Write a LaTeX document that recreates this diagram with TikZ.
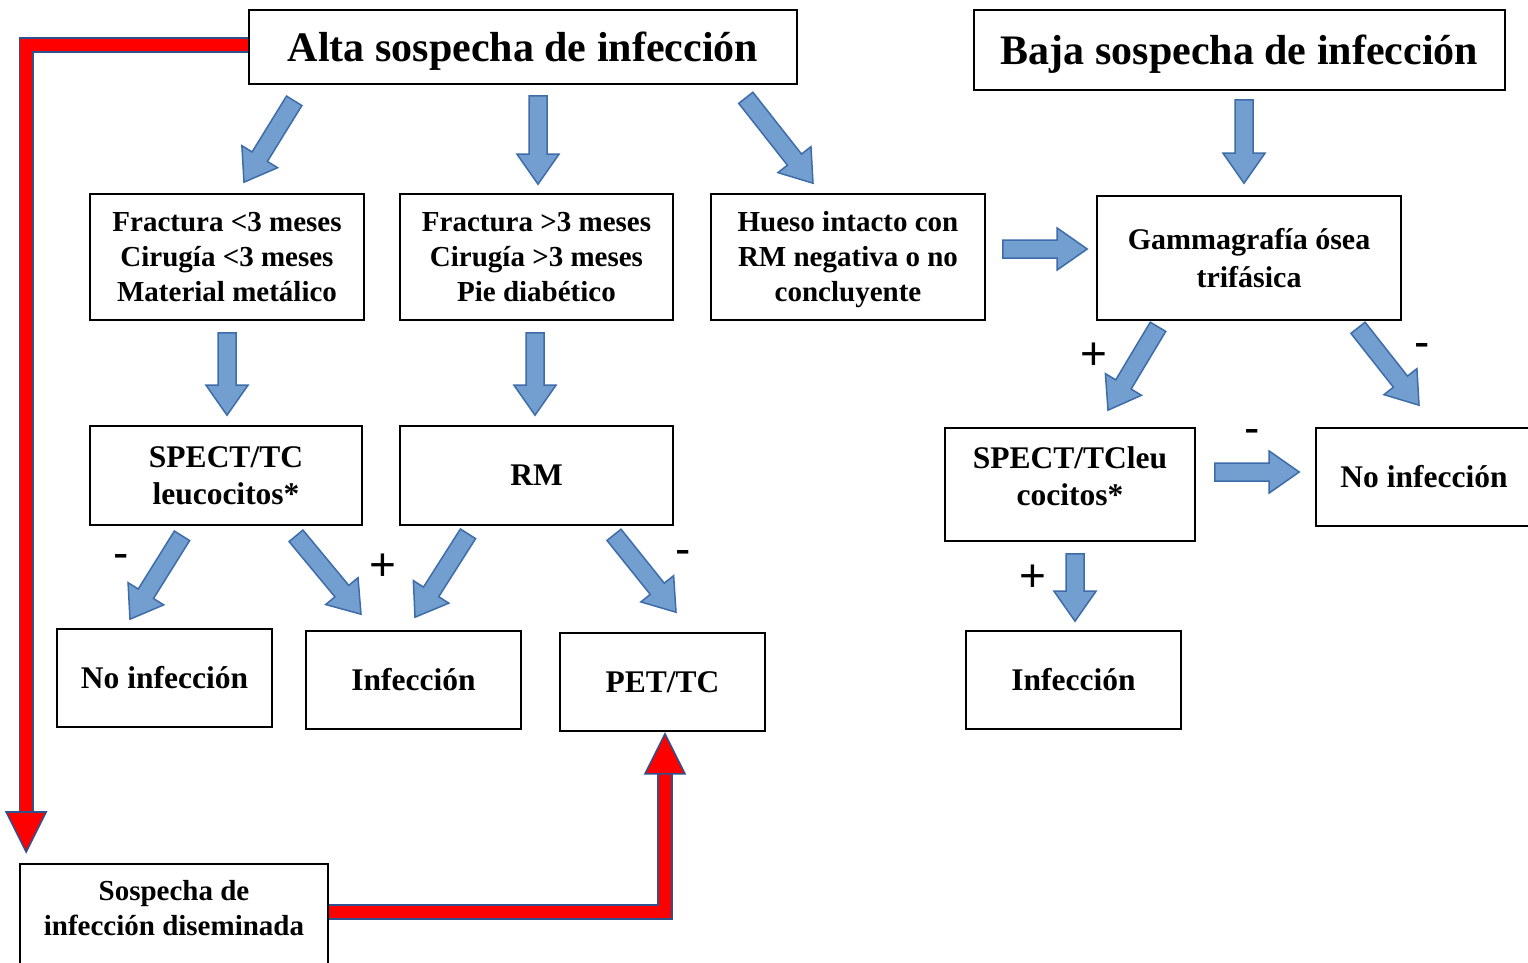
\documentclass[tikz,border=0pt]{standalone}
\usepackage{fontspec}
\setmainfont{Liberation Serif}
\newfontfamily\signfont{Liberation Sans}
\usetikzlibrary{calc}

\definecolor{arrowfill}{RGB}{114,159,207}
\definecolor{arrowedge}{RGB}{62,108,168}
\definecolor{rededge}{RGB}{47,82,143}

% block arrow: #1 node anchor + #2 offset (tail), #3 node anchor + #4 offset (tip)
\newcommand{\barrow}[4]{%
  \coordinate (ba) at ($(#1)+(#2)$);
  \coordinate (bb) at ($(#3)+(#4)$);
  \coordinate (bh) at ($(bb)!30pt!(ba)$);
  \filldraw[barrow] ($(ba)!9pt!90:(bb)$) -- ($(bh)!9pt!-90:(ba)$) -- ($(bh)!21pt!-90:(ba)$)
    -- (bb) -- ($(bh)!21pt!90:(ba)$) -- ($(bh)!9pt!90:(ba)$) -- ($(ba)!9pt!-90:(bb)$) -- cycle;}
\newcommand{\headdown}[1]{\filldraw[redhead] ($(#1)+(-20,-40)$) -- (#1) -- ($(#1)+(20,-40)$) -- cycle;}
\newcommand{\headup}[1]{\filldraw[redhead] ($(#1)+(-20,40)$) -- (#1) -- ($(#1)+(20,40)$) -- cycle;}

\begin{document}
\begin{tikzpicture}[x=1pt, y=-1pt,
  box/.style={draw, line width=1.6pt, inner sep=0pt, align=center, font=\fontsize{29}{35}\selectfont\bfseries},
  title/.style={box, font=\fontsize{42}{48}\selectfont\bfseries},
  result/.style={box, minimum height=98pt, font=\fontsize{31.5}{37}\selectfont\bfseries},
  sign/.style={font=\signfont\fontsize{46}{50}\selectfont},
  barrow/.style={fill=arrowfill, draw=arrowedge, line width=1.5pt, line join=miter},
  redline/.style={draw=rededge, line width=1.6pt, double=red, double distance=12pt, line join=miter},
  redhead/.style={fill=red, draw=rededge, line width=1.6pt, line join=miter}]

\path[use as bounding box, fill=white] (0,0) rectangle (1528,962);

% top
\node[title, minimum width=548pt, minimum height=74pt, text depth=0pt] (alta) at (523,47) {Alta sospecha de infección};
\node[title, minimum width=531pt, minimum height=80pt, text depth=0pt] (baja) at (1239.5,50) {Baja sospecha de infección};

% first row
\node[box, minimum width=274pt, minimum height=126pt] (f1) at (227,257) {Fractura <3 meses\\Cirugía <3 meses\\Material metálico};
\node[box, minimum width=273pt, minimum height=126pt] (f2) at (536.5,257) {Fractura >3 meses\\Cirugía >3 meses\\Pie diabético};
\node[box, minimum width=274pt, minimum height=126pt, text depth=2pt] (f3) at (848,257) {Hueso intacto con\\RM negativa o no\\concluyente};
\node[box, minimum width=304pt, minimum height=124pt, font=\fontsize{30}{38}\selectfont\bfseries] (gamma) at (1249,258) {Gammagrafía ósea\\trifásica};

% second row
\node[result, minimum width=272pt, minimum height=99pt] (spect1) at (226,475.5) {SPECT/TC\\leucocitos*};
\node[result, minimum width=273pt, minimum height=99pt] (rm) at (536.5,475.5) {RM};
\node[result, minimum width=250pt, minimum height=113pt, text depth=17pt] (spect2) at (1070,484.5) {SPECT/TCleu\\cocitos*};
\node[result, minimum width=216pt] (noinf2) at (1424,477) {No infección};

% results
\node[result, minimum width=215pt] (noinf1) at (164.5,678) {No infección};
\node[result, minimum width=215pt] (inf1) at (413.5,680) {Infección};
\node[result, minimum width=205pt] (pet) at (662.5,682) {PET/TC};
\node[result, minimum width=215pt] (inf2) at (1073.5,680) {Infección};

\node[box, anchor=north, minimum width=308pt, inner ysep=17pt, text depth=60pt] (sosp) at (174,863) {Sospecha de\\infección diseminada};

% signs
\node[sign] (m1) at (121,561) {-};
\node[sign] (p1) at (383,567) {+};
\node[sign] (m2) at (683,557) {-};
\node[sign] (p2) at (1094,356) {+};
\node[sign] (m3) at (1422,350) {-};
\node[sign] (m4) at (1252,436) {-};
\node[sign] (p3) at (1033,578) {+};

% blue arrows
\barrow{alta.south west}{46,16}{f1.north}{17,-11}
\barrow{alta.south}{15,11}{f2.north}{1.5,-9}
\barrow{alta.south east}{-52,13}{f3.north}{-35,-10}
\barrow{baja.south}{4.5,9}{gamma.north}{-5,-12}
\barrow{f1.south}{0,12}{spect1.north}{1,-10}
\barrow{f2.south}{-1.5,12}{rm.north}{-1.5,-10}
\barrow{f3.east}{17,-8}{gamma.west}{-9,-9}
\barrow{gamma.south}{-91,6}{spect2.north}{38,-17}
\barrow{gamma.south}{109,7}{noinf2.north}{-5,-22}
\barrow{spect2.east}{19,-12.5}{noinf2.west}{-16,-5}
\barrow{spect2.south}{5,12}{inf2.north}{1.5,-9}
\barrow{spect1.south}{-44,10}{noinf1.north}{-34.5,-9}
\barrow{spect1.south}{70,10}{inf1.north}{-52.5,-16}
\barrow{rm.south}{-68.5,8}{inf1.north}{1.5,-13}
\barrow{rm.south}{77.5,9}{pet.north}{13.5,-20}

% red arrows
\coordinate (tipA) at ($(sosp.north west)+(7,-11)$);
\draw[redline] ([yshift=2pt]alta.west) -| ($(tipA)+(0,-40)$);
\headdown{tipA}

\coordinate (tipB) at ($(pet.south)+(2.5,2)$);
\draw[redline] ($(sosp.north east)+(0,49)$) -| ($(tipB)+(0,40)$);
\headup{tipB}

\end{tikzpicture}
\end{document}
